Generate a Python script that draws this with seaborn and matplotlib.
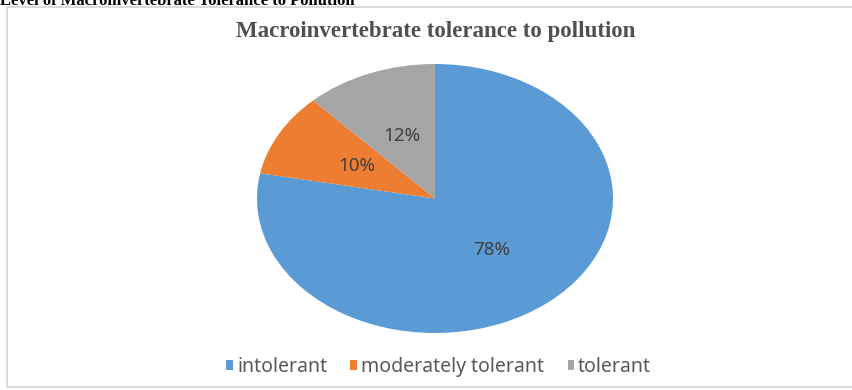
import matplotlib
matplotlib.use('Agg')
from matplotlib import pyplot as plt
from matplotlib.patches import Rectangle
import seaborn as sns

# data
categories = ['intolerant', 'moderately tolerant', 'tolerant']
shares = [78, 10, 12]
colours = ['#5B9BD5', '#ED7D31', '#A5A5A5']

sns.set_theme(style='white')
plt.rcParams['font.family'] = ['Noto Sans', 'DejaVu Sans']

fig = plt.figure(figsize=[8.52, 3.9], dpi=100)
fig.patch.set_facecolor('white')

# chart frame
fig.patches.append(Rectangle((7 / 852, 3 / 390), 1.0, 380 / 390,
                             transform=fig.transFigure, fill=False,
                             edgecolor='#d4d4d4', linewidth=1.2))

# heading of the document, cut off at the top as in the source
fig.text(0.0, 1 - 5 / 390, 'Level of Macroinvertebrate Tolerance to Pollution',
         ha='left', va='baseline', fontsize=12, fontweight='bold',
         family='Liberation Serif', color='black')

fig.text(0.511, 1 - 31 / 390, 'Macroinvertebrate tolerance to pollution',
         ha='center', va='center', fontsize=16.5, fontweight='bold',
         family='Liberation Serif', color='#505050')

ax = fig.add_axes([257 / 852, 57 / 390, 356 / 852, 269 / 390])
wedges, texts, autotexts = ax.pie(
    shares, colors=colours, startangle=90, counterclock=False,
    autopct='%d%%', pctdistance=0.5,
    wedgeprops=dict(linewidth=0),
    textprops=dict(color='#404040', fontsize=13.5))
ax.set_aspect('auto')
ax.set_xlim(-1, 1)
ax.set_ylim(-1, 1)

fig.legend(wedges, categories, loc='center', bbox_to_anchor=(0.515, 1 - 367 / 390),
           ncol=3, frameon=False, fontsize=14, handlelength=0.35, handleheight=0.35,
           handletextpad=0.2, columnspacing=1.2, labelcolor='#595959')

plt.savefig('out.png', dpi=100)
